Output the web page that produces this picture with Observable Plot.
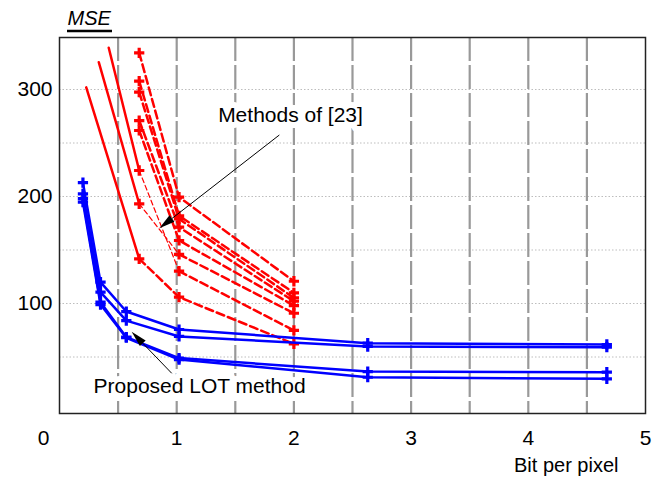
<!DOCTYPE html>
<html><head><meta charset="utf-8">
<script src="https://cdn.jsdelivr.net/npm/d3@7"></script>
<script src="https://cdn.jsdelivr.net/npm/@observablehq/plot@0.6"></script>
<style>body{margin:0;background:#fff}</style>
</head><body><div id="chart"></div>
<script>
// ---- data ----
const xTicks = [0, 1, 2, 3, 4, 5];
const yTicks = [100, 200, 300];
const yGrid = [50, 100, 150, 200, 250, 300];
const xGrid = [0.5, 1, 1.5, 2, 2.5, 3, 3.5, 4, 4.5];

// Proposed LOT method (blue)
const blueX = [0.2, 0.35, 0.57, 1.02, 2.63, 4.67];
const blueA = [213, 120, 92.5, 75.7, 62.9, 61.7];
const blueB = [202.5, 110.6, 84, 69.2, 59.8, 59.2];
const blueC = [198, 101.2, 68.5, 49, 36.4, 35.8];
const blueD = [194.7, 99, 68, 47.6, 31.1, 29.6];

// Methods of [23] (red, dashed with markers)
const redX = [0.68, 1.02, 2.0];
const red1 = [334.3, 199.4, 120.8];
const red2 = [307.8, 182, 110];
const red3 = [297.5, 179, 105.3];
const red4 = [271, 171.3, 102.1];
const red5 = [261.7, 158.9, 98.1];
const red6 = [224.3, 130.2, 74.8];
const red7 = [193.2, 146, 90.9];
const red8 = [141.8, 105.9, 62.3];

// Methods of [23] (red, solid lead-in segments)
const redSolidStartX = [0.42, 0.335, 0.228];
const redSolidStartY = [339, 325.5, 302];

// annotations (data units)
const labelMethods = "Methods of [23]";
const labelProposed = "Proposed LOT method";
const labelPos = [[1.971, 275.7], [1.195, 22.4]];
const arrowFrom = [[1.88, 257], [0.962, 34.3]];
const arrowTo = [[0.856, 169.8], [0.62, 73.2]];

// ---- tables ----
const blueSeries = [blueA, blueB, blueC, blueD];
const blueRows = blueSeries.flatMap((s, k) => s.map((v, i) => ({series: k, x: blueX[i], y: v})));
const redSeries = [red1, red2, red3, red4, red5, red6, red7, red8];
const thin = new Set([5, 6]);
const redRows = redSeries.flatMap((s, k) => s.map((v, i) => ({series: k, x: redX[i], y: v})));
const redThick = redRows.filter(d => !(thin.has(d.series) && d.x === redX[0]));
const redThin = redRows.filter(d => thin.has(d.series) && (d.x === redX[0] || d.x === redX[1]));
const redSolid = redSolidStartX.flatMap((x0, k) => [
  {series: k, x: x0, y: redSolidStartY[k]},
  {series: k, x: redX[0], y: redSeries[5 + k][0]}
]);
const labels = [labelMethods, labelProposed].map((t, i) => ({text: t, x: labelPos[i][0], y: labelPos[i][1]}));
const arrows = arrowFrom.map((a, i) => ({x1: a[0], y1: a[1], x2: arrowTo[i][0], y2: arrowTo[i][1]}));

function arrowMark(index, scales, values, dimensions) {
  const g = d3.create("svg:g");
  for (const a of arrows) {
    const x1 = scales.x(a.x1), y1 = scales.y(a.y1), x2 = scales.x(a.x2), y2 = scales.y(a.y2);
    const dx = x2 - x1, dy = y2 - y1, L = Math.hypot(dx, dy), ux = dx / L, uy = dy / L;
    const hl = 16, hw = 4;
    const bx = x2 - ux * hl, by = y2 - uy * hl;
    g.append("line").attr("x1", x1).attr("y1", y1).attr("x2", bx).attr("y2", by)
      .attr("stroke", "#000").attr("stroke-width", 1);
    g.append("path").attr("d", `M${x2},${y2}L${bx - uy * hw},${by + ux * hw}L${bx + uy * hw},${by - ux * hw}Z`)
      .attr("fill", "#000");
  }
  // underline of the y-axis title
  const ml = dimensions.marginLeft;
  g.append("line").attr("x1", ml + 8).attr("x2", ml + 53).attr("y1", 31).attr("y2", 31)
    .attr("stroke", "#000").attr("stroke-width", 2.4);
  return g.node();
}

const fmt = d => String(d);
const chart = Plot.plot({
  width: 663, height: 479,
  marginLeft: 59, marginRight: 18, marginTop: 37, marginBottom: 66,
  x: {domain: [0, 5]},
  y: {domain: [-2.8, 348.6]},
  style: {fontFamily: "'Liberation Sans', Arial, sans-serif", fontSize: "21px", color: "#000", background: "#fff"},
  marks: [
    Plot.ruleY(yGrid, {stroke: "#bdbdbd", strokeWidth: 1, strokeDasharray: "1.5,2"}),
    Plot.ruleX(xGrid, {stroke: "#999", strokeWidth: 2.2, strokeDasharray: "24,4"}),
    Plot.axisX(xTicks.slice(1), {tickSize: 0, tickPadding: 17, label: null, tickFormat: fmt}),
    Plot.axisX(xTicks.slice(0, 1), {tickSize: 0, tickPadding: 17, dx: -16, label: null, tickFormat: fmt}),
    Plot.axisY(yTicks, {tickSize: 0, tickPadding: 7, label: null, tickFormat: fmt}),
    Plot.text(["MSE"], {frameAnchor: "top-left", dx: 8, dy: -13, textAnchor: "start", lineAnchor: "bottom", fontStyle: "italic", fontSize: 20}),
    Plot.text(["Bit per pixel"], {frameAnchor: "bottom-right", dx: -27, dy: 58, textAnchor: "end", lineAnchor: "bottom", fontSize: 20}),
    Plot.text(labels, {x: "x", y: "y", text: "text", fontSize: 21, fill: "#000", stroke: "#fff", strokeWidth: 12}),
    Plot.line(redSolid, {x: "x", y: "y", z: "series", stroke: "#ff0000", strokeWidth: 2.5}),
    Plot.line(redThin, {x: "x", y: "y", z: "series", stroke: "#ff0000", strokeWidth: 1.2, strokeDasharray: "5,3"}),
    Plot.line(redThick, {x: "x", y: "y", z: "series", stroke: "#ff0000", strokeWidth: 2.5, strokeDasharray: "8,4"}),
    Plot.dot(redRows, {x: "x", y: "y", symbol: "plus", stroke: "#ff0000", strokeWidth: 3.2, r: 3.4}),
    Plot.line(blueRows, {x: "x", y: "y", z: "series", stroke: "#0000ff", strokeWidth: 2.5}),
    Plot.dot(blueRows, {x: "x", y: "y", symbol: "plus", stroke: "#0000ff", strokeWidth: 3.2, r: 3.4}),
    arrowMark,
    Plot.frame({stroke: "#222", strokeWidth: 1.5})
  ]
});
document.getElementById("chart").append(chart);
</script>
</body></html>
